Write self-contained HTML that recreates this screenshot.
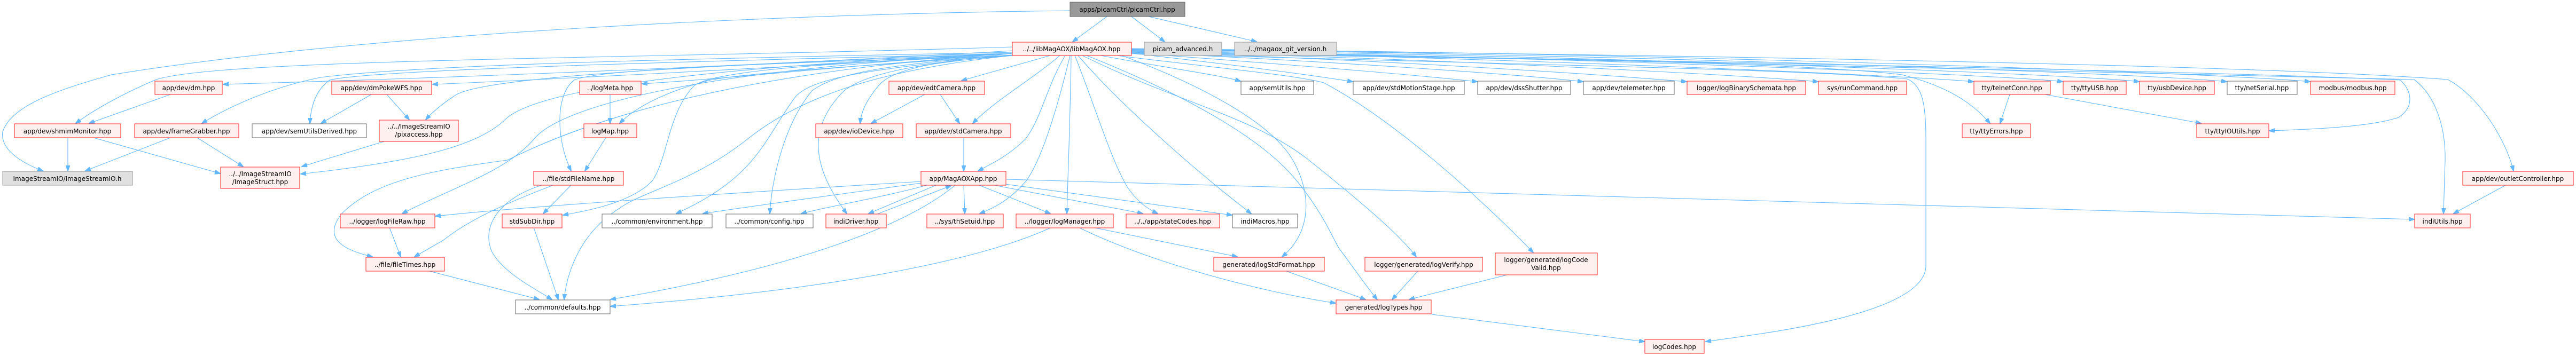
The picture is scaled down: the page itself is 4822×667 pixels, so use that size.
<!DOCTYPE html>
<html><head><meta charset="utf-8"><style>
html,body{margin:0;padding:0;background:#fff;}
svg{display:block;}
text{font-family:"DejaVu Sans","Liberation Sans",sans-serif;font-size:12px;fill:#000;}
.e{fill:none;stroke:#63b8ff;stroke-width:1.1;marker-end:url(#a);}
.r{fill:#fff0f0;stroke:#ff2020;stroke-width:1;}
.w{fill:#fff;stroke:#666;stroke-width:1;}
.g{fill:#e0e0e0;stroke:#999;stroke-width:1;}
.t{fill:#999;stroke:#666;stroke-width:1;}
</style></head><body>
<svg width="4822" height="667" viewBox="0 0 4822 667" xmlns="http://www.w3.org/2000/svg">
<defs><marker id="a" markerWidth="11" markerHeight="8" refX="10" refY="4" orient="auto" markerUnits="userSpaceOnUse"><path d="M0,0 L11,4 L0,8 z" fill="#63b8ff" stroke="#63b8ff"/></marker></defs>
<g>
<!-- picamCtrl edges -->
<path class="e" d="M2072,31 L2008,78"/>
<path class="e" d="M2118,31 L2180,78"/>
<path class="e" d="M2150,31 L2352,78"/>
<path class="e" d="M2003,20 C1500,25 700,60 209,140 C100,170 20,200 5,247 C0,280 40,305 80,320"/>
<!-- libMagAOX left -->
<path class="e" d="M1895,95 C1300,130 700,150 418,158"/>
<path class="e" d="M1895,88 C1200,110 400,110 290,150 C220,180 170,210 142,231"/>
<path class="e" d="M1895,98 C1300,110 800,120 600,145 C500,165 420,205 378,231"/>
<path class="e" d="M1895,100 C1300,115 700,130 617,150 C590,170 582,200 580,231"/>
<path class="e" d="M1895,100 C1400,130 1000,150 810,158"/>
<path class="e" d="M1895,100 C1400,120 900,140 850,180 C820,200 805,215 797,224"/>
<path class="e" d="M1895,100 C1200,130 1000,180 950,220 C900,270 800,300 563,326"/>
<path class="e" d="M1895,100 C1300,140 1050,250 950,300 C800,320 700,340 640,400 C600,450 650,470 697,481"/>
<path class="e" d="M1895,100 C1300,130 1050,200 1000,260 C950,320 850,350 753,400"/>
<path class="e" d="M1895,103 C1600,120 1400,145 1202,157"/>
<path class="e" d="M1895,104 C1500,130 1380,140 1330,150 C1250,170 1190,200 1160,231"/>
<path class="e" d="M1895,104 C1400,120 1120,130 1075,150 C1040,175 1040,260 1069,320"/>
<path class="e" d="M1895,104 C1450,120 1330,140 1300,160 C1250,210 1250,300 1220,340 C1180,380 1100,395 1054,403"/>
<path class="e" d="M1895,104 C1650,130 1500,180 1400,260 C1300,340 1200,360 1160,390 C1080,440 1060,520 1056,561"/>
<path class="e" d="M1895,104 C1600,130 1520,150 1490,180 C1430,260 1420,330 1266,400"/>
<path class="e" d="M1895,104 C1650,120 1560,140 1520,170 C1470,230 1445,330 1441,400"/>
<path class="e" d="M1895,104 C1700,120 1620,140 1580,170 C1520,230 1510,300 1585,400"/>
<path class="e" d="M1895,100 C1750,115 1670,130 1645,160 C1620,190 1612,210 1610,231"/>
<!-- libMagAOX bottom -->
<path class="e" d="M1966,104 L1800,151"/>
<path class="e" d="M1984,104 C1930,150 1860,190 1821,231"/>
<path class="e" d="M1994,104 C1960,160 1950,220 1920,260 C1890,290 1860,305 1831,320"/>
<path class="e" d="M2003,104 C1980,200 1950,300 1920,340 C1890,375 1860,390 1834,400"/>
<path class="e" d="M2005,104 C2004,200 2000,300 1997,400"/>
<path class="e" d="M2012,104 C2050,200 2080,300 2110,350 C2130,380 2150,392 2167,400"/>
<path class="e" d="M2018,104 C2100,200 2250,330 2342,400"/>
<path class="e" d="M2026,104 C2200,190 2350,220 2450,300 C2550,380 2620,440 2651,481"/>
<path class="e" d="M2034,104 C2200,170 2350,250 2420,330 C2480,400 2500,460 2510,470 C2540,510 2560,540 2578,561"/>
<path class="e" d="M2090,104 C2300,130 2420,140 2478,155 C2600,220 2750,350 2870,473"/>
<path class="e" d="M2060,104 C2200,130 2280,140 2322,152"/>
<path class="e" d="M2100,104 C2250,160 2380,230 2420,300 C2460,370 2450,440 2400,481"/>
<!-- libMagAOX right -->
<path class="e" d="M2118,100 C2300,120 2450,140 2532,153"/>
<path class="e" d="M2118,99 C2400,120 2650,140 2765,153"/>
<path class="e" d="M2118,98 C2500,115 2850,140 2963,153"/>
<path class="e" d="M2118,97 C2600,112 3000,140 3157,153"/>
<path class="e" d="M2118,96 C2700,110 3250,140 3403,153"/>
<path class="e" d="M2118,95 C2800,108 3550,140 3694,153"/>
<path class="e" d="M2118,94 C2900,106 3750,140 3861,153"/>
<path class="e" d="M2118,93 C3000,104 3900,140 4004,153"/>
<path class="e" d="M2118,92 C3100,102 4050,140 4168,153"/>
<path class="e" d="M2118,91 C3200,100 4200,140 4324,153"/>
<path class="e" d="M2118,100 C3000,110 3400,120 3560,140 C3640,160 3690,190 3725,231"/>
<path class="e" d="M2118,98 C3000,110 4200,135 4493,150 C4515,170 4520,200 4490,220 C4430,240 4300,243 4248,245"/>
<path class="e" d="M2118,96 C3000,110 4000,130 4519,149 C4560,180 4578,240 4577,300 L4574,400"/>
<path class="e" d="M2118,93 C3000,100 4200,120 4582,149 C4640,180 4690,260 4705,320"/>
<path class="e" d="M2118,100 C2800,120 3400,130 3570,148 C3600,160 3605,200 3605,260 L3605,500 C3600,590 3300,625 3193,640"/>
<!-- others -->
<path class="e" d="M319,177 L167,231"/>
<path class="e" d="M695,177 L601,231"/>
<path class="e" d="M724,177 L766,224"/>
<path class="e" d="M127,258 L127,320"/>
<path class="e" d="M175,258 L412,325"/>
<path class="e" d="M319,258 L160,320"/>
<path class="e" d="M369,258 L455,312"/>
<path class="e" d="M719,265 L565,312"/>
<path class="e" d="M729,426 L750,481"/>
<path class="e" d="M1035,347 C950,380 880,410 830,450 L776,481"/>
<path class="e" d="M1069,347 L1017,400"/>
<path class="e" d="M1014,347 C940,370 900,420 920,470 C940,510 1000,540 1033,561"/>
<path class="e" d="M999,426 L1045,561"/>
<path class="e" d="M800,507 L1009,561"/>
<path class="e" d="M1142,177 L1142,231"/>
<path class="e" d="M1134,258 L1095,320"/>
<path class="e" d="M1731,177 L1631,231"/>
<path class="e" d="M1760,177 L1796,231"/>
<path class="e" d="M1804,258 L1804,320"/>
<path class="e" d="M1724,340 C1400,360 1000,385 815,405"/>
<path class="e" d="M1724,343 C1600,360 1450,380 1316,400"/>
<path class="e" d="M1735,347 C1650,370 1560,385 1500,400"/>
<path class="e" d="M1752,347 L1626,400"/>
<path class="e" d="M1642,401 L1780,348"/>
<path class="e" d="M1804,347 L1806,400"/>
<path class="e" d="M1833,347 L1966,400"/>
<path class="e" d="M1861,347 L2139,400"/>
<path class="e" d="M1882,345 L2306,403"/>
<path class="e" d="M1884,336 C2500,350 3500,380 4519,411"/>
<path class="e" d="M1788,347 C1700,420 1500,500 1143,561"/>
<path class="e" d="M1966,427 C1850,480 1600,540 1143,574"/>
<path class="e" d="M2050,427 L2316,481"/>
<path class="e" d="M2021,427 C2150,490 2350,545 2500,568"/>
<path class="e" d="M2408,508 L2556,561"/>
<path class="e" d="M2654,508 L2606,561"/>
<path class="e" d="M2821,515 L2638,561"/>
<path class="e" d="M2680,589 L3078,640"/>
<path class="e" d="M3762,177 L3744,231"/>
<path class="e" d="M3828,177 L4120,231"/>
<path class="e" d="M4692,346 L4593,400"/>
</g>
<g>
<rect class="t" x="2003" y="4" width="215" height="27"/><text x="2110" y="22" text-anchor="middle">apps/picamCtrl/picamCtrl.hpp</text>
<rect class="r" x="1895" y="79" width="223" height="25"/><text x="2006" y="96" text-anchor="middle">../../libMagAOX/libMagAOX.hpp</text>
<rect class="g" x="2142" y="79" width="145" height="25"/><text x="2214" y="96" text-anchor="middle">picam_advanced.h</text>
<rect class="g" x="2311" y="79" width="191" height="25"/><text x="2406" y="96" text-anchor="middle">../../magaox_git_version.h</text>

<rect class="r" x="290" y="152" width="126" height="25"/><text x="353" y="169" text-anchor="middle">app/dev/dm.hpp</text>
<rect class="r" x="621" y="152" width="187" height="25"/><text x="714" y="169" text-anchor="middle">app/dev/dmPokeWFS.hpp</text>
<rect class="r" x="1085" y="152" width="115" height="25"/><text x="1142" y="169" text-anchor="middle">../logMeta.hpp</text>
<rect class="r" x="1664" y="152" width="179" height="25"/><text x="1753" y="169" text-anchor="middle">app/dev/edtCamera.hpp</text>
<rect class="w" x="2323" y="152" width="136" height="25"/><text x="2391" y="169" text-anchor="middle">app/semUtils.hpp</text>
<rect class="w" x="2533" y="152" width="208" height="25"/><text x="2637" y="169" text-anchor="middle">app/dev/stdMotionStage.hpp</text>
<rect class="w" x="2766" y="152" width="174" height="25"/><text x="2853" y="169" text-anchor="middle">app/dev/dssShutter.hpp</text>
<rect class="w" x="2964" y="152" width="170" height="25"/><text x="3049" y="169" text-anchor="middle">app/dev/telemeter.hpp</text>
<rect class="r" x="3158" y="152" width="222" height="25"/><text x="3269" y="169" text-anchor="middle">logger/logBinarySchemata.hpp</text>
<rect class="r" x="3404" y="152" width="165" height="25"/><text x="3486" y="169" text-anchor="middle">sys/runCommand.hpp</text>
<rect class="r" x="3695" y="152" width="143" height="25"/><text x="3766" y="169" text-anchor="middle">tty/telnetConn.hpp</text>
<rect class="r" x="3862" y="152" width="118" height="25"/><text x="3921" y="169" text-anchor="middle">tty/ttyUSB.hpp</text>
<rect class="r" x="4005" y="152" width="140" height="25"/><text x="4075" y="169" text-anchor="middle">tty/usbDevice.hpp</text>
<rect class="w" x="4169" y="152" width="131" height="25"/><text x="4234" y="169" text-anchor="middle">tty/netSerial.hpp</text>
<rect class="r" x="4325" y="152" width="158" height="25"/><text x="4404" y="169" text-anchor="middle">modbus/modbus.hpp</text>

<rect class="r" x="27" y="232" width="199" height="26"/><text x="126" y="250" text-anchor="middle">app/dev/shmimMonitor.hpp</text>
<rect class="r" x="252" y="232" width="195" height="26"/><text x="349" y="250" text-anchor="middle">app/dev/frameGrabber.hpp</text>
<rect class="w" x="472" y="232" width="214" height="26"/><text x="579" y="250" text-anchor="middle">app/dev/semUtilsDerived.hpp</text>
<rect class="r" x="710" y="225" width="148" height="40"/><text x="784" y="241" text-anchor="middle">../../ImageStreamIO</text><text x="784" y="256" text-anchor="middle">/pixaccess.hpp</text>
<rect class="r" x="1093" y="232" width="99" height="26"/><text x="1142" y="250" text-anchor="middle">logMap.hpp</text>
<rect class="r" x="1527" y="232" width="163" height="26"/><text x="1608" y="250" text-anchor="middle">app/dev/ioDevice.hpp</text>
<rect class="r" x="1715" y="232" width="177" height="26"/><text x="1803" y="250" text-anchor="middle">app/dev/stdCamera.hpp</text>
<rect class="r" x="3673" y="232" width="128" height="26"/><text x="3737" y="250" text-anchor="middle">tty/ttyErrors.hpp</text>
<rect class="r" x="4112" y="232" width="135" height="26"/><text x="4179" y="250" text-anchor="middle">tty/ttyIOUtils.hpp</text>

<rect class="g" x="5" y="321" width="243" height="26"/><text x="126" y="339" text-anchor="middle">ImageStreamIO/ImageStreamIO.h</text>
<rect class="r" x="413" y="313" width="148" height="40"/><text x="487" y="330" text-anchor="middle">../../ImageStreamIO</text><text x="487" y="345" text-anchor="middle">/ImageStruct.hpp</text>
<rect class="r" x="999" y="321" width="168" height="26"/><text x="1083" y="339" text-anchor="middle">../file/stdFileName.hpp</text>
<rect class="r" x="1724" y="321" width="159" height="26"/><text x="1803" y="339" text-anchor="middle">app/MagAOXApp.hpp</text>
<rect class="r" x="4610" y="321" width="207" height="26"/><text x="4713" y="339" text-anchor="middle">app/dev/outletController.hpp</text>

<rect class="r" x="637" y="401" width="177" height="26"/><text x="725" y="419" text-anchor="middle">../logger/logFileRaw.hpp</text>
<rect class="r" x="940" y="401" width="112" height="26"/><text x="996" y="419" text-anchor="middle">stdSubDir.hpp</text>
<rect class="w" x="1127" y="401" width="206" height="26"/><text x="1230" y="419" text-anchor="middle">../common/environment.hpp</text>
<rect class="w" x="1359" y="401" width="163" height="26"/><text x="1440" y="419" text-anchor="middle">../common/config.hpp</text>
<rect class="r" x="1546" y="401" width="113" height="26"/><text x="1602" y="419" text-anchor="middle">indiDriver.hpp</text>
<rect class="r" x="1735" y="401" width="143" height="26"/><text x="1806" y="419" text-anchor="middle">../sys/thSetuid.hpp</text>
<rect class="r" x="1902" y="401" width="182" height="26"/><text x="1993" y="419" text-anchor="middle">../logger/logManager.hpp</text>
<rect class="r" x="2108" y="401" width="175" height="26"/><text x="2195" y="419" text-anchor="middle">../../app/stateCodes.hpp</text>
<rect class="w" x="2307" y="401" width="122" height="26"/><text x="2368" y="419" text-anchor="middle">indiMacros.hpp</text>
<rect class="r" x="4520" y="401" width="104" height="26"/><text x="4572" y="419" text-anchor="middle">indiUtils.hpp</text>

<rect class="r" x="685" y="482" width="147" height="26"/><text x="758" y="500" text-anchor="middle">../file/fileTimes.hpp</text>
<rect class="r" x="2272" y="482" width="207" height="26"/><text x="2375" y="500" text-anchor="middle">generated/logStdFormat.hpp</text>
<rect class="r" x="2555" y="482" width="220" height="26"/><text x="2665" y="500" text-anchor="middle">logger/generated/logVerify.hpp</text>
<rect class="r" x="2799" y="474" width="191" height="41"/><text x="2894" y="491" text-anchor="middle">logger/generated/logCode</text><text x="2894" y="506" text-anchor="middle">Valid.hpp</text>

<rect class="w" x="965" y="562" width="177" height="26"/><text x="1053" y="580" text-anchor="middle">../common/defaults.hpp</text>
<rect class="r" x="2501" y="562" width="178" height="26"/><text x="2590" y="580" text-anchor="middle">generated/logTypes.hpp</text>
<rect class="r" x="3079" y="636" width="111" height="26"/><text x="3134" y="654" text-anchor="middle">logCodes.hpp</text>
</g>
</svg>
</body></html>
